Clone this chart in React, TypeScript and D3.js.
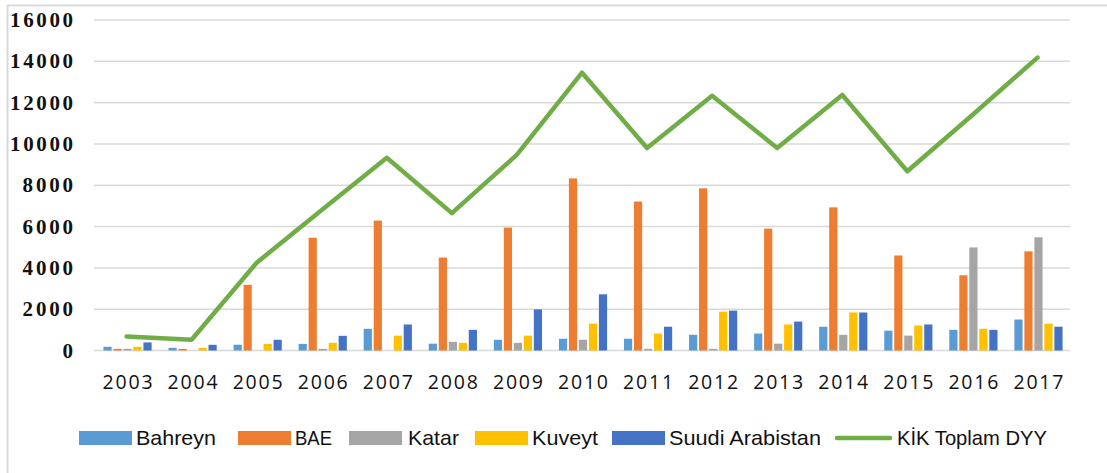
import * as d3 from "d3";

const years = ["2003", "2004", "2005", "2006", "2007", "2008", "2009", "2010", "2011", "2012", "2013", "2014", "2015", "2016", "2017"];
const bahreyn = [180, 130, 280, 320, 1050, 330, 520, 570, 570, 760, 820, 1150, 960, 1000, 1500];
const bae = [80, 80, 3180, 5460, 6290, 4500, 5950, 8330, 7210, 7850, 5900, 6930, 4600, 3640, 4800];
const katar = [80, 0, 0, 80, 0, 420, 370, 520, 80, 80, 330, 760, 720, 4990, 5480];
const kuveyt = [180, 130, 320, 370, 720, 370, 720, 1300, 820, 1880, 1260, 1840, 1210, 1050, 1300];
const suudi = [390, 275, 520, 710, 1260, 1000, 1990, 2720, 1150, 1930, 1400, 1840, 1260, 1000, 1150];
const kikToplam = [680, 520, 4250, 6800, 9330, 6650, 9480, 13450, 9800, 12330, 9800, 12370, 8680, 11400, 14180];
const yTicks = [0, 2000, 4000, 6000, 8000, 10000, 12000, 14000, 16000];

const series = [
  { name: "Bahreyn", values: bahreyn, color: "#5B9BD5" },
  { name: "BAE", values: bae, color: "#ED7D31" },
  { name: "Katar", values: katar, color: "#A5A5A5" },
  { name: "Kuveyt", values: kuveyt, color: "#FFC000" },
  { name: "Suudi Arabistan", values: suudi, color: "#4472C4" },
];
const lineName = "KİK Toplam DYY";
const lineColor = "#70AD47";

// legend layout: [swatch x, text x, text width]
const legendPos = [
  [79, 136, 80],
  [238, 295, 37],
  [349, 408, 51],
  [475, 532, 66],
  [612, 669, 152],
];

export default function App() {
  const W = 1107, H = 473;
  const x = d3.scaleBand<string>().domain(years).range([94, 1070]).padding(0);
  const y = d3.scaleLinear().domain([0, 16000]).range([350.5, 20]);
  const barW = 8.2, step = 10;
  const line = d3
    .line<number>()
    .x((_, i) => x(years[i])! + x.bandwidth() / 2)
    .y((d) => y(d));

  return (
    <svg width={W} height={H} style={{ position: "absolute", left: 0, top: 0, display: "block", background: "#fff" }}>
      {/* frame edges */}
      <line x1={7.5} x2={7.5} y1={5} y2={H} stroke="#D9D9D9" strokeWidth={2} />
      <line x1={7} x2={W} y1={5.5} y2={5.5} stroke="#D9D9D9" strokeWidth={2} />

      {yTicks.map((t) => (
        <g key={t}>
          <line x1={94} x2={1070} y1={y(t)} y2={y(t)} stroke="#D9D9D9" strokeWidth={1.5} />
          <text
            x={73}
            y={y(t) + 7}
            textAnchor="end"
            fontFamily="'Liberation Serif', serif"
            fontWeight="bold"
            fontSize={21}
            fill="#111"
            textLength={String(t).length * 12.6}
          >
            {t}
          </text>
        </g>
      ))}

      {series.map((s, si) => (
        <g key={s.name}>
          {s.values.map((v, i) => (
            <rect
              key={i}
              x={x(years[i])! + x.bandwidth() / 2 + (si - 2) * step - barW / 2 + 1}
              y={y(v)}
              width={barW}
              height={y(0) - y(v)}
              fill={s.color}
            />
          ))}
        </g>
      ))}

      <path
        d={line(kikToplam)!}
        fill="none"
        stroke={lineColor}
        strokeWidth={4.5}
        strokeLinejoin="round"
        strokeLinecap="round"
      />

      {years.map((yr) => (
        <text
          key={yr}
          x={x(yr)! + x.bandwidth() / 2 + 1}
          y={389}
          textAnchor="middle"
          fontFamily="'Open Sans', sans-serif"
          fontSize={19.5}
          fill="#111"
          textLength={50}
        >
          {yr}
        </text>
      ))}

      {series.map((s, i) => (
        <g key={s.name}>
          <rect x={legendPos[i][0]} y={431} width={53} height={14} fill={s.color} />
          <text
            x={legendPos[i][1]}
            y={445}
            fontFamily="'Liberation Sans Narrow', 'Liberation Sans', sans-serif"
            fontSize={21}
            fill="#111"
            textLength={legendPos[i][2]}
            lengthAdjust="spacingAndGlyphs"
          >
            {s.name}
          </text>
        </g>
      ))}
      <line x1={837} x2={890} y1={438} y2={438} stroke={lineColor} strokeWidth={4.5} strokeLinecap="round" />
      <text
        x={897}
        y={445}
        fontFamily="'Liberation Sans Narrow', 'Liberation Sans', sans-serif"
        fontSize={21}
        fill="#111"
        textLength={150}
        lengthAdjust="spacingAndGlyphs"
      >
        {lineName}
      </text>
    </svg>
  );
}
